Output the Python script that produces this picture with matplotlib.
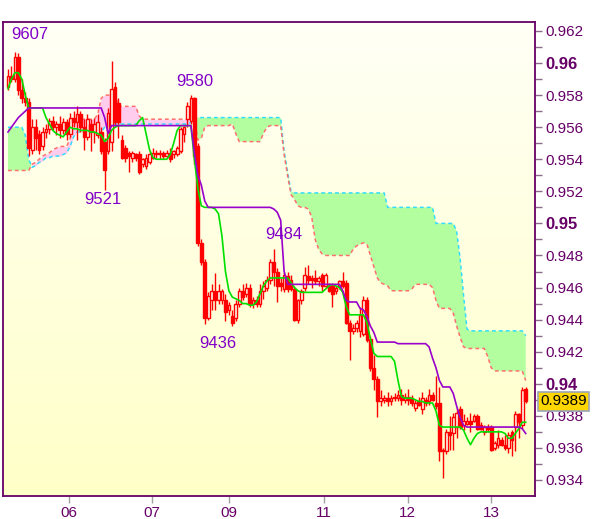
import numpy as np
import matplotlib
matplotlib.use("Agg")
import matplotlib.pyplot as plt
import matplotlib.transforms as mtransforms
from matplotlib.colors import LinearSegmentedColormap

# hourly candles, prices in pips (0.0001)
open_ = [9585, 9592, 9590, 9604, 9583, 9578, 9576, 9546, 9560, 9556,
         9548, 9557, 9559, 9564, 9560, 9562, 9558, 9563, 9556, 9566,
         9563, 9568, 9560, 9554, 9562, 9557, 9555, 9557, 9551, 9545,
         9551, 9585, 9575, 9552, 9547, 9544, 9541, 9543, 9543, 9537,
         9536, 9538, 9541, 9544, 9543, 9544, 9542, 9544, 9543, 9543,
         9545, 9556, 9565, 9564, 9578, 9548, 9488, 9476, 9441, 9452,
         9458, 9452, 9452, 9452, 9446, 9442, 9441, 9450, 9458, 9456,
         9460, 9450, 9452, 9450, 9458, 9460, 9465, 9476, 9470, 9463,
         9459, 9467, 9465, 9459, 9440, 9452, 9460, 9467, 9466, 9466,
         9464, 9468, 9461, 9461, 9461, 9458, 9461, 9464, 9463, 9438,
         9433, 9435, 9433, 9431, 9452, 9428, 9410, 9403, 9389, 9390,
         9391, 9389, 9391, 9391, 9393, 9390, 9392, 9391, 9385, 9389,
         9384, 9390, 9389, 9393, 9388, 9388, 9359, 9358, 9370, 9369,
         9373, 9384, 9374, 9375, 9377, 9377, 9380, 9374, 9370, 9373,
         9373, 9360, 9362, 9365, 9362, 9360, 9370, 9373, 9381, 9374,
         9397]
high = [9596, 9598, 9607, 9606, 9590, 9582, 9578, 9565, 9565, 9558,
        9560, 9562, 9566, 9567, 9564, 9567, 9566, 9565, 9569, 9570,
        9573, 9570, 9565, 9568, 9565, 9566, 9568, 9560, 9553, 9572,
        9601, 9588, 9578, 9555, 9549, 9545, 9545, 9544, 9545, 9541,
        9543, 9545, 9547, 9546, 9546, 9545, 9546, 9547, 9546, 9548,
        9560, 9561, 9576, 9580, 9579, 9550, 9490, 9478, 9457, 9462,
        9469, 9462, 9459, 9456, 9451, 9446, 9452, 9460, 9462, 9463,
        9462, 9454, 9455, 9462, 9464, 9467, 9478, 9484, 9472, 9466,
        9470, 9470, 9468, 9461, 9453, 9459, 9473, 9474, 9468, 9471,
        9467, 9469, 9469, 9463, 9462, 9461, 9465, 9470, 9465, 9440,
        9437, 9440, 9448, 9455, 9454, 9430, 9418, 9405, 9396, 9393,
        9395, 9393, 9394, 9396, 9397, 9394, 9397, 9393, 9390, 9392,
        9395, 9392, 9397, 9395, 9405, 9398, 9360, 9372, 9380, 9382,
        9385, 9386, 9381, 9379, 9382, 9381, 9381, 9376, 9374, 9375,
        9374, 9364, 9371, 9367, 9368, 9370, 9371, 9383, 9382, 9398,
        9398]
low = [9583, 9588, 9588, 9580, 9575, 9573, 9542, 9543, 9546, 9543,
       9546, 9553, 9556, 9558, 9555, 9553, 9556, 9552, 9554, 9560,
       9552, 9557, 9546, 9552, 9545, 9550, 9553, 9543, 9521, 9543,
       9545, 9560, 9553, 9540, 9538, 9532, 9538, 9539, 9531, 9535,
       9534, 9537, 9540, 9541, 9540, 9540, 9541, 9538, 9541, 9542,
       9544, 9551, 9560, 9562, 9537, 9486, 9474, 9437, 9440, 9446,
       9446, 9450, 9450, 9439, 9443, 9436, 9439, 9448, 9452, 9454,
       9448, 9447, 9448, 9448, 9453, 9458, 9462, 9461, 9451, 9458,
       9457, 9457, 9458, 9439, 9438, 9450, 9458, 9462, 9460, 9462,
       9461, 9458, 9460, 9457, 9448, 9456, 9459, 9460, 9437, 9415,
       9431, 9432, 9429, 9430, 9426, 9408, 9396, 9379, 9386, 9388,
       9386, 9387, 9389, 9389, 9387, 9388, 9387, 9386, 9383, 9386,
       9381, 9386, 9387, 9389, 9384, 9352, 9341, 9356, 9359, 9359,
       9366, 9372, 9371, 9374, 9370, 9376, 9371, 9371, 9368, 9370,
       9358, 9359, 9360, 9361, 9359, 9357, 9355, 9358, 9366, 9372,
       9388]
close = [9592, 9590, 9604, 9583, 9578, 9576, 9547, 9560, 9553, 9546,
         9557, 9559, 9564, 9560, 9562, 9558, 9563, 9556, 9566, 9563,
         9568, 9560, 9554, 9565, 9557, 9562, 9563, 9545, 9533, 9569,
         9584, 9563, 9563, 9541, 9541, 9542, 9544, 9541, 9532, 9540,
         9541, 9543, 9544, 9543, 9544, 9542, 9544, 9540, 9545, 9547,
         9559, 9560, 9573, 9578, 9542, 9488, 9476, 9441, 9455, 9458,
         9452, 9458, 9458, 9445, 9449, 9438, 9450, 9458, 9454, 9460,
         9450, 9452, 9450, 9458, 9461, 9465, 9476, 9470, 9461, 9461,
         9468, 9459, 9459, 9440, 9452, 9458, 9468, 9465, 9465, 9464,
         9466, 9461, 9468, 9458, 9456, 9460, 9464, 9461, 9438, 9433,
         9435, 9438, 9443, 9452, 9427, 9410, 9403, 9389, 9391, 9391,
         9389, 9391, 9392, 9393, 9390, 9392, 9390, 9388, 9388, 9387,
         9391, 9388, 9393, 9390, 9386, 9358, 9358, 9370, 9368, 9379,
         9382, 9373, 9377, 9377, 9375, 9380, 9372, 9372, 9373, 9372,
         9359, 9363, 9366, 9362, 9360, 9368, 9365, 9381, 9376, 9396,
         9389]

tenkan = [9584, 9590, 9594, 9594, 9590, 9580, 9572, 9572, 9572, 9572,
          9572, 9566, 9562, 9558, 9556, 9555, 9554, 9557, 9560, 9559,
          9559, 9558, 9558, 9558, 9557, 9557, 9556, 9555, 9551, 9553,
          9558, 9560, 9561, 9561, 9561, 9561, 9561, 9561, 9564, 9566,
          9556, 9546, 9541, 9540, 9540, 9540, 9540, 9543, 9550, 9558,
          9561, 9561, 9561, 9561, 9540, 9522, 9511, 9510, 9510, 9510,
          9509, 9506, 9492, 9470, 9458, 9454, 9453, 9452, 9450, 9450,
          9449, 9449, 9451, 9456, 9461, 9464, 9466, 9466, 9466, 9466,
          9466, 9466, 9463, 9460, 9458, 9457, 9457, 9457, 9457, 9457,
          9457, 9457, 9459, 9461, 9462, 9461, 9460, 9457, 9448, 9443,
          9443, 9443, 9443, 9443, 9438, 9428, 9419, 9417, 9417, 9417,
          9417, 9417, 9414, 9402, 9392, 9391, 9391, 9391, 9390, 9389,
          9389, 9388, 9388, 9388, 9383, 9374, 9373, 9373, 9373, 9373,
          9373, 9373, 9371, 9366, 9362, 9366, 9369, 9370, 9370, 9370,
          9370, 9370, 9370, 9370, 9369, 9366, 9366, 9369, 9372, 9376,
          9376]
kijun = [9557, 9560, 9563, 9566, 9568, 9570, 9572, 9572, 9572, 9572,
         9572, 9572, 9572, 9572, 9572, 9572, 9572, 9572, 9572, 9572,
         9572, 9572, 9572, 9572, 9572, 9572, 9572, 9572, 9566, 9556,
         9561, 9561, 9561, 9561, 9561, 9561, 9561, 9561, 9561, 9561,
         9561, 9561, 9561, 9561, 9561, 9561, 9561, 9561, 9561, 9561,
         9561, 9561, 9561, 9561, 9544, 9530, 9524, 9514, 9510, 9510,
         9510, 9510, 9510, 9510, 9510, 9510, 9510, 9510, 9510, 9510,
         9510, 9510, 9510, 9510, 9510, 9510, 9510, 9509, 9507, 9502,
         9470, 9462, 9462, 9462, 9462, 9462, 9462, 9462, 9462, 9462,
         9462, 9462, 9462, 9462, 9462, 9462, 9462, 9458, 9452, 9451,
         9451, 9451, 9447, 9446, 9442, 9436, 9432, 9426, 9426, 9426,
         9426, 9426, 9426, 9425, 9425, 9425, 9425, 9425, 9425, 9425,
         9425, 9425, 9423, 9416, 9410, 9402, 9398, 9398, 9398, 9394,
         9386, 9379, 9374, 9373, 9373, 9373, 9373, 9373, 9373, 9373,
         9373, 9373, 9373, 9373, 9373, 9373, 9373, 9373, 9373, 9372,
         9369]
span_a = [9560, 9560, 9560, 9560, 9560, 9555, 9540, 9535, 9536, 9538,
          9539, 9541, 9541, 9542, 9542, 9542, 9543, 9544, 9548, 9554,
          9557, 9557, 9557, 9557, 9557, 9557, 9557, 9557, 9560, 9562,
          9562, 9562, 9562, 9562, 9562, 9562, 9562, 9562, 9562, 9562,
          9562, 9562, 9562, 9562, 9562, 9562, 9562, 9562, 9562, 9562,
          9562, 9562, 9562, 9563, 9566, 9566, 9566, 9566, 9566, 9566,
          9566, 9566, 9566, 9566, 9566, 9566, 9566, 9566, 9566, 9566,
          9566, 9566, 9566, 9566, 9566, 9566, 9566, 9566, 9566, 9566,
          9545, 9532, 9520, 9519, 9519, 9519, 9519, 9519, 9519, 9519,
          9519, 9519, 9519, 9519, 9519, 9519, 9519, 9519, 9519, 9519,
          9519, 9519, 9519, 9519, 9519, 9519, 9519, 9519, 9519, 9519,
          9510, 9510, 9510, 9510, 9510, 9510, 9510, 9510, 9510, 9510,
          9510, 9510, 9510, 9510, 9500, 9500, 9500, 9500, 9500, 9500,
          9495, 9478, 9455, 9434, 9433, 9433, 9433, 9433, 9433, 9433,
          9433, 9433, 9433, 9433, 9433, 9433, 9433, 9433, 9433, 9433,
          9430]
span_b = [9533, 9533, 9533, 9533, 9533, 9533, 9533, 9537, 9538, 9540,
          9542, 9543, 9544, 9546, 9547, 9548, 9548, 9548, 9553, 9560,
          9566, 9565, 9565, 9565, 9565, 9565, 9568, 9578, 9580, 9580,
          9580, 9580, 9573, 9573, 9573, 9573, 9573, 9573, 9567, 9565,
          9565, 9565, 9565, 9565, 9565, 9565, 9565, 9565, 9565, 9565,
          9565, 9565, 9565, 9565, 9565, 9552, 9553, 9560, 9561, 9561,
          9561, 9561, 9561, 9561, 9561, 9562, 9556, 9551, 9551, 9551,
          9551, 9551, 9551, 9551, 9556, 9560, 9561, 9561, 9561, 9561,
          9543, 9530, 9518, 9515, 9511, 9510, 9510, 9509, 9504, 9490,
          9484, 9481, 9480, 9480, 9480, 9480, 9480, 9480, 9480, 9480,
          9484, 9486, 9487, 9488, 9487, 9480, 9473, 9466, 9463, 9462,
          9461, 9458, 9458, 9458, 9458, 9458, 9458, 9459, 9462, 9462,
          9462, 9462, 9462, 9460, 9452, 9447, 9447, 9447, 9447, 9444,
          9436, 9429, 9423, 9422, 9422, 9422, 9422, 9422, 9422, 9417,
          9410, 9408, 9408, 9408, 9408, 9408, 9408, 9408, 9408, 9408,
          9402]

# day labels (bar position of each day start)
day_pos = [17.7, 41.7, 64.0, 91.6, 115.8, 140.0]
day_labels = ["06", "07", "09", "11", "12", "13"]

# high/low markers: text, bar, price
marks = [("9607", 6.4, 0.96175), ("9580", 54.2, 0.95888), ("9484", 80.0, 0.94928),
         ("9521", 27.5, 0.95152), ("9436", 60.9, 0.94254)]

last_price = 0.9389
y_ticks = [0.934, 0.936, 0.938, 0.94, 0.942, 0.944, 0.946, 0.948,
           0.95, 0.952, 0.954, 0.956, 0.958, 0.96, 0.962]

o = np.array(open_) / 10000
h = np.array(high) / 10000
l = np.array(low) / 10000
c = np.array(close) / 10000
a = np.array(span_a) / 10000
b = np.array(span_b) / 10000
x = np.arange(len(c))

purple = "#660066"
font = ["Liberation Sans", "DejaVu Sans"]

fig = plt.figure(figsize=(6, 5.19), dpi=100)
ax = fig.add_axes([0.005, 0.0443, 0.887, 0.9133])
xlim = (-1.45, 152.75)
ylim = (0.93300, 0.96256)

# background gradient
bg = LinearSegmentedColormap.from_list("bg", ["#FFFFC8", "#FFFFF6"])
ax.imshow(np.linspace(0, 1, 256).reshape(-1, 1), cmap=bg, origin="lower",
          extent=[xlim[0], xlim[1], ylim[0], ylim[1]], aspect="auto", zorder=0)

# cloud
ax.fill_between(x, a, b, where=a >= b, interpolate=True, color="#B3FF9F", lw=0, zorder=1)
ax.fill_between(x, a, b, where=a < b, interpolate=True, color="#FFCCEE", lw=0, zorder=1)
ax.plot(x, a, color="#33DDFF", lw=1.1, ls=(0, (2.5, 2)), zorder=2)
ax.plot(x, b, color="#FF6F6F", lw=1.1, ls=(0, (2.5, 2)), zorder=2)

# candles
up = c >= o
ax.vlines(x, l, h, color="#FF0000", lw=1.0, zorder=3)
ax.bar(x, np.abs(c - o), bottom=np.minimum(o, c), width=0.8,
       color=np.where(up, "#FFFFF2", "#FF0000"), edgecolor="#FF0000", lw=1.0, zorder=3)

# tenkan / kijun
ax.plot(x, np.array(tenkan) / 10000, color="#00E000", lw=1.2, zorder=4)
ax.plot(x, np.array(kijun) / 10000, color="#9900CC", lw=1.2, zorder=4)

for txt, bx, by in marks:
    ax.text(bx, by, txt, color="#8000C8", fontsize=12, ha="center", va="center",
            family=font, zorder=5)

ax.set_xlim(*xlim)
ax.set_ylim(*ylim)

# right price axis
ax.yaxis.tick_right()
ax.set_yticks(y_ticks)
ax.set_yticks([v + 0.001 for v in y_ticks[:-1]], minor=True)
ax.set_yticklabels([f"{v:g}" for v in y_ticks])
for v, lab in zip(y_ticks, ax.get_yticklabels()):
    lab.set_family(font)
    if round(v * 1000) % 10 == 0:
        lab.set_fontsize(12)
        lab.set_fontweight("bold")
    else:
        lab.set_fontsize(11)
ax.tick_params(axis="y", which="both", direction="out", length=5, width=1,
               color="#8C6C8C", labelcolor=purple, pad=2)

ax.set_xticks(day_pos)
ax.set_xticklabels(day_labels, family=font, fontsize=11)
ax.tick_params(axis="x", direction="out", length=5, width=1, color="#A0A0A0",
               labelcolor=purple, pad=2)

for s in ax.spines.values():
    s.set_color(purple)
    s.set_linewidth(1.3)

# last price box
tr = mtransforms.blended_transform_factory(ax.transAxes, ax.transData)
ax.text(1.0095, last_price, f"{last_price:.4f}", transform=tr, ha="left", va="center",
        fontsize=11, family=font, color="black", zorder=10, clip_on=False,
        bbox=dict(boxstyle="square,pad=0.15", fc="#FFD700", ec="#9AA4B8", lw=1.2))

fig.savefig("out.png", dpi=100, facecolor="white")
